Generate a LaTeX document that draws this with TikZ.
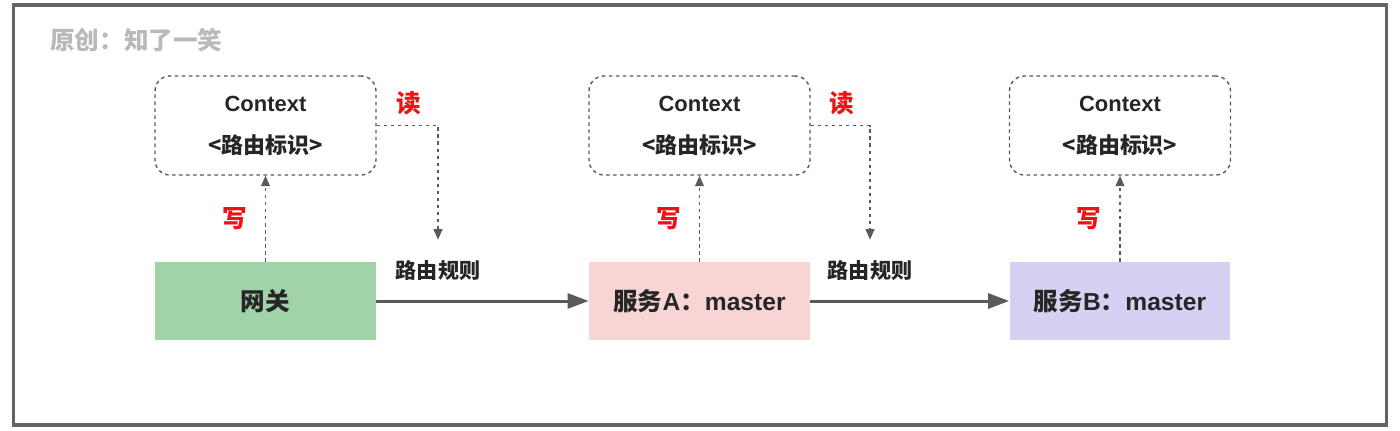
\documentclass[tikz,border=0pt]{standalone}
\usepackage{fontspec}
\setmainfont{Liberation Sans}
\newfontfamily\cjk{Noto Sans CJK SC}
\usetikzlibrary{positioning,arrows.meta}
\definecolor{Frame}{RGB}{100,100,100}
\definecolor{Note}{RGB}{185,185,185}
\definecolor{Ink}{RGB}{38,38,38}
\definecolor{Wire}{RGB}{90,90,90}
\definecolor{Alert}{RGB}{235,20,20}
\definecolor{Gate}{RGB}{160,212,168}
\definecolor{SvcA}{RGB}{248,212,212}
\definecolor{SvcB}{RGB}{216,208,242}

\begin{document}
\begin{tikzpicture}[>={Triangle[length=6pt,width=5pt]}, x=0.02cm, y=-0.02cm,
  ctx/.style={draw=Wire, line width=0.8pt, dash pattern=on 2pt off 2pt, rounded corners=8.5pt,
    minimum width=4.42cm, minimum height=1.98cm, align=center, text=Ink,
    font=\fontsize{12.5}{24}\selectfont\bfseries},
  svc/.style={minimum width=4.42cm, minimum height=1.56cm, text=Ink,
    font=\fontsize{14}{17}\selectfont\bfseries},
  redlbl/.style={text=Alert, font=\fontsize{14}{17}\selectfont\bfseries\cjk},
  rulelbl/.style={text=Ink, font=\fontsize{12}{14}\selectfont\bfseries\cjk},
  wr/.style={->, draw=Wire, line width=0.8pt, dash pattern=on 2pt off 2pt},
  flow/.style={-{Triangle[length=12pt,width=8.5pt]}, draw=Wire, line width=1.7pt}
]
\fill[white] (0,0) rectangle (1400,430);
\useasboundingbox (0,0) rectangle (1400,430);
\draw[Frame, line width=1.8pt] (13.5,5) rectangle (1386.5,425);

\node[anchor=west, inner sep=0, text=Note, font=\fontsize{14}{17}\selectfont\bfseries\cjk] (credit) at (50,40) {原创：知了一笑};

% context boxes
\node[ctx] (ctxG) at (265.5,125.5) {Context\\{\cjk <路由标识>}};
\node[ctx] (ctxA) at (699.5,125.5) {Context\\{\cjk <路由标识>}};
\node[ctx] (ctxB) at (1120,125.5) {Context\\{\cjk <路由标识>}};

% services
\node[svc, fill=Gate] (gw) at (265.5,301) {\cjk 网关};
\node[svc, fill=SvcA] (svcA) at (699.5,301) {{\cjk 服务}A{\cjk ：}master};
\node[svc, fill=SvcB] (svcB) at (1120,301) {{\cjk 服务}B{\cjk ：}master};

\node[rulelbl] (ruleA) at (438,270) {路由规则};
\node[rulelbl] (ruleB) at (870,270) {路由规则};
\node[redlbl] (readA) at (409,103) {读};
\node[redlbl] (readB) at (842,103) {读};

\draw[flow] (gw) -- (svcA);
\draw[flow] (svcA) -- (svcB);

\draw[wr] (gw) -- (ctxG) node[midway, left=7pt, redlbl] {写};
\draw[wr] (svcA) -- (ctxA) node[midway, left=7pt, redlbl] {写};
\draw[wr] (svcB) -- (ctxB) node[midway, left=7pt, redlbl] {写};

\draw[wr, shorten >=8pt] (ctxG.east) -| (ruleA.north);
\draw[wr, shorten >=8pt] (ctxA.east) -| (ruleB.north);
\end{tikzpicture}
\end{document}
